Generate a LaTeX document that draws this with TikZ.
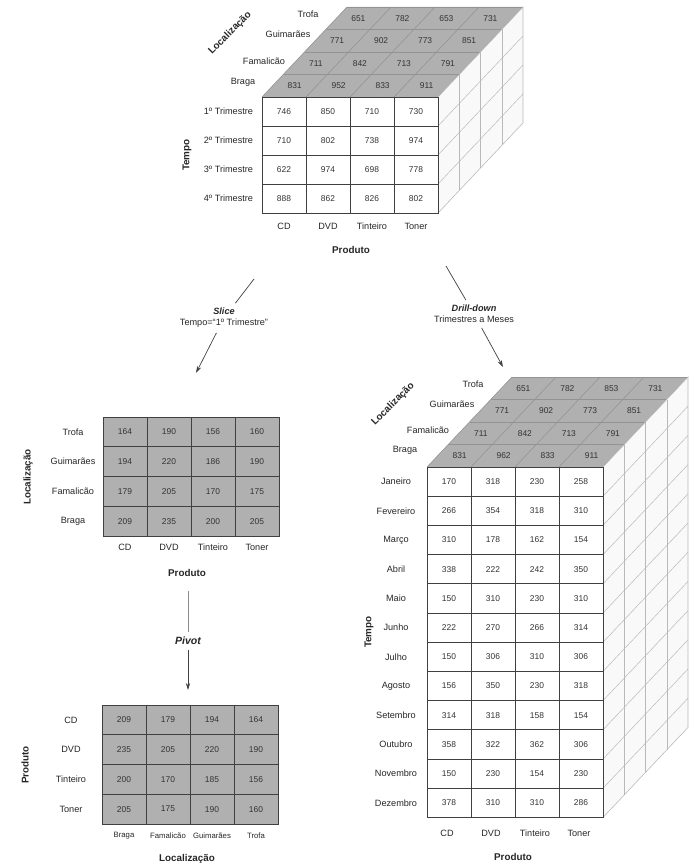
\documentclass[tikz,border=0pt]{standalone}
\usepackage{fontspec}
\setmainfont{Liberation Sans}
\usetikzlibrary{arrows.meta, positioning}

\begin{document}
\begin{tikzpicture}[
    x=0.025cm, y=-0.025cm,
    lbl/.style={font=\fontsize{6.5}{8}\selectfont, text=black!85},
    tiny/.style={font=\fontsize{5.5}{6.5}\selectfont, text=black!85},
    num/.style={font=\fontsize{6}{7}\selectfont, text=black!80},
    ax/.style={font=\fontsize{7}{8}\selectfont\bfseries, text=black!85},
    op/.style={font=\fontsize{7.5}{8.5}\selectfont\bfseries\itshape, text=black!85},
    cell/.style={draw=black!75, line width=0.5pt, fill=white, minimum width=1.1cm, minimum height=0.725cm, inner sep=0pt, num},
    gcell/.style={cell, fill=gray!62, minimum height=0.744cm},
    topface/.style={fill=gray!62},
    sideface/.style={fill=gray!5, draw=gray!55, line width=0.4pt},
    topline/.style={draw=gray!85, line width=0.4pt},
    grid/.style={draw=gray!55, line width=0.35pt},
    ln/.style={black!75, line width=0.5pt},
    arr/.style={-{Stealth[length=5pt, width=3pt]}, black!75, line width=0.5pt},
]
    \useasboundingbox (0,0) rectangle (693,866);

    % cubo trimestral
    \fill[topface] (262,97) -- (438,97) -- ++(85,-90) -- (347,7) -- cycle;
    \foreach \k in {0,...,4} \draw[topline] (262+21.25*\k, 97-22.5*\k) -- ++(176,0);
    \foreach \c in {0,...,4} \draw[topline] (262+44*\c, 97) -- ++(85,-90);
    \filldraw[sideface] (438,97) -- ++(85,-90) -- ++(0,116) -- ++(-85,90) -- cycle;
    \foreach \k in {1,...,3} \draw[grid] (438+21.25*\k, 97-22.5*\k) -- ++(0,116);
    \foreach \r in {1,...,3} \draw[grid] (438, 97+29*\r) -- ++(85,-90);
    \foreach \row [count=\k from 0] in {{831,952,833,911},{711,842,713,791},{771,902,773,851},{651,782,653,731}}
        \foreach \v [count=\c from 0] in \row
            \node[num] (tt-\k-\c) at (294.6+44*\c+21.25*\k, 85.75-22.5*\k) {\v};
    \foreach \row [count=\r] in {{746,850,710,730},{710,802,738,974},{622,974,698,778},{888,862,826,802}}
        \foreach \v [count=\c] in \row
            \node[cell] (tf-\r-\c) at (240+44*\c, 82.5+29*\r) {\v};
    \foreach \t/\px/\py [count=\k] in {Braga/243/82, Famalicão/264/61, Guimarães/288/34, Trofa/308/14}
        \node[lbl] (tl-\k) at (\px,\py) {\t};
    \foreach \t [count=\r] in {1º Trimestre, 2º Trimestre, 3º Trimestre, 4º Trimestre}
        \node[lbl, anchor=east] (tr-\r) at (258, 82.5+29*\r) {\t};
    \foreach \t [count=\c] in {CD, DVD, Tinteiro, Toner}
        \node[lbl] (tc-\c) at (240+44*\c, 226) {\t};
    \node[ax] (tprod) at (351,250) {Produto};
    \node[ax, rotate=90] (ttempo) at (187,155) {Tempo};
    \node[ax, rotate=45] (tloc) at (230,33) {Localização};

    % operacoes
    \coordinate (slicea) at (254,279);
    \coordinate (sliceb) at (196,373);
    \node[lbl, align=center] (slice) at (224,318) {\textbf{\textit{Slice}}\\Tempo=“1º Trimestre”};
    \draw[ln] (slicea) -- (slice);
    \draw[arr] (slice) -- (sliceb);
    \coordinate (drilla) at (446,266);
    \coordinate (drillb) at (503,367);
    \node[lbl, align=center] (drill) at (474,314) {\textbf{\textit{Drill-down}}\\Trimestres a Meses};
    \draw[ln] (drilla) -- (drill);
    \draw[arr] (drill) -- (drillb);
    \coordinate (piva) at (188,591);
    \coordinate (pivb) at (188,690);
    \node[op] (pivot) at (188,641) {Pivot};
    \draw[ln, black!45] (piva) -- (pivot);
    \draw[arr] (pivot) -- (pivb);

    % slice
    \foreach \row [count=\r] in {{164,190,156,160},{194,220,186,190},{179,205,170,175},{209,235,200,205}}
        \foreach \v [count=\c] in \row
            \node[gcell] (s-\r-\c) at (81+44*\c, 402.125+29.75*\r) {\v};
    \foreach \t [count=\r] in {Trofa, Guimarães, Famalicão, Braga}
        \node[lbl] (sr-\r) at (73, 402.125+29.75*\r) {\t};
    \foreach \t [count=\c] in {CD, DVD, Tinteiro, Toner}
        \node[lbl] (sc-\c) at (81+44*\c, 547) {\t};
    \node[ax] (sprod) at (187,573) {Produto};
    \node[ax, rotate=90] (sloc) at (28,477) {Localização};

    % pivot
    \foreach \row [count=\r] in {{209,179,194,164},{235,205,220,190},{200,170,185,156},{205,175,190,160}}
        \foreach \v [count=\c] in \row
            \node[gcell] (p-\r-\c) at (80+44*\c, 690.125+29.75*\r) {\v};
    \foreach \t [count=\r] in {CD, DVD, Tinteiro, Toner}
        \node[lbl] (pr-\r) at (71, 690.125+29.75*\r) {\t};
    \foreach \t [count=\c] in {Braga, Famalicão, Guimarães, Trofa}
        \node[tiny] (pc-\c) at (80+44*\c, 836) {\t};
    \node[ax] (ploc) at (187,859) {Localização};
    \node[ax, rotate=90] (pprod) at (25,765) {Produto};

    % cubo mensal
    \fill[topface] (427,467) -- (603,467) -- ++(85,-90) -- (512,377) -- cycle;
    \foreach \k in {0,...,4} \draw[topline] (427+21.25*\k, 467-22.5*\k) -- ++(176,0);
    \foreach \c in {0,...,4} \draw[topline] (427+44*\c, 467) -- ++(85,-90);
    \filldraw[sideface] (603,467) -- ++(85,-90) -- ++(0,350.4) -- ++(-85,90) -- cycle;
    \foreach \k in {1,...,3} \draw[grid] (603+21.25*\k, 467-22.5*\k) -- ++(0,350.4);
    \foreach \r in {1,...,11} \draw[grid] (603, 467+29.2*\r) -- ++(85,-90);
    \foreach \row [count=\k from 0] in {{831,962,833,911},{711,842,713,791},{771,902,773,851},{651,782,853,731}}
        \foreach \v [count=\c from 0] in \row
            \node[num] (dt-\k-\c) at (459.6+44*\c+21.25*\k, 455.75-22.5*\k) {\v};
    \foreach \row [count=\r] in {{170,318,230,258},{266,354,318,310},{310,178,162,154},{338,222,242,350},
                                 {150,310,230,310},{222,270,266,314},{150,306,310,306},{156,350,230,318},
                                 {314,318,158,154},{358,322,362,306},{150,230,154,230},{378,310,310,286}}
        \foreach \v [count=\c] in \row
            \node[cell, minimum height=0.73cm] (df-\r-\c) at (405+44*\c, 452.4+29.2*\r) {\v};
    \foreach \t/\px/\py [count=\k] in {Braga/405/450, Famalicão/428/430, Guimarães/452/404, Trofa/473/384}
        \node[lbl] (dl-\k) at (\px,\py) {\t};
    \foreach \t [count=\r] in {Janeiro, Fevereiro, Março, Abril, Maio, Junho, Julho, Agosto, Setembro, Outubro, Novembro, Dezembro}
        \node[lbl] (dr-\r) at (396, 452.4+29.2*\r) {\t};
    \foreach \t [count=\c] in {CD, DVD, Tinteiro, Toner}
        \node[lbl] (dc-\c) at (403+44*\c, 833) {\t};
    \node[ax] (dprod) at (513,857) {Produto};
    \node[ax, rotate=90] (dtempo) at (369,632) {Tempo};
    \node[ax, rotate=45] (dloc) at (393,404) {Localização};
\end{tikzpicture}
\end{document}
